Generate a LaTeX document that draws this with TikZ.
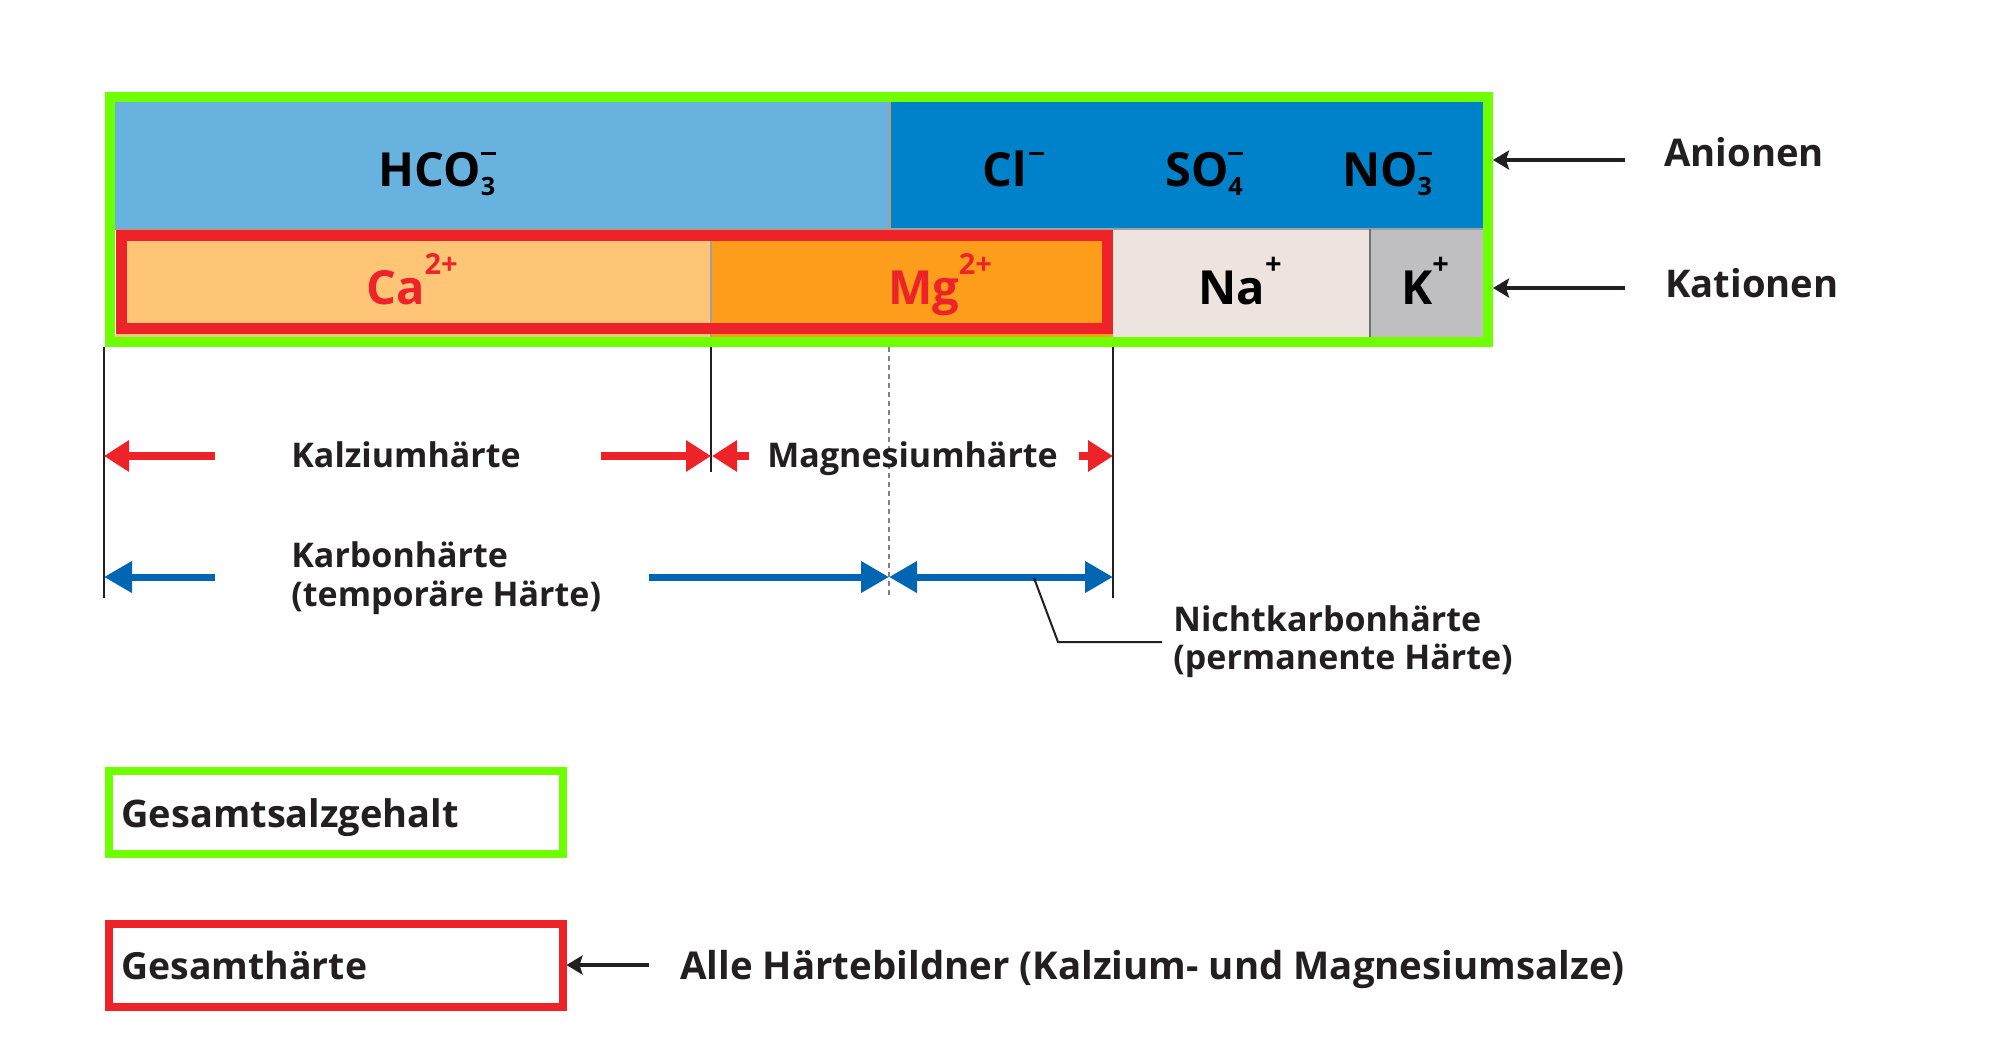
\documentclass[tikz,border=0pt]{standalone}
\usepackage{fontspec}
\setmainfont{Open Sans}
\usetikzlibrary{arrows.meta}
\definecolor{lblue}{RGB}{103,178,223}
\definecolor{dblue}{RGB}{0,130,202}
\definecolor{fgreen}{RGB}{112,255,0}
\definecolor{hred}{RGB}{238,34,41}
\definecolor{lorange}{RGB}{254,197,119}
\definecolor{dorange}{RGB}{253,157,27}
\definecolor{nacol}{RGB}{237,228,223}
\definecolor{kcol}{RGB}{191,191,194}
\definecolor{arrblue}{RGB}{0,102,179}
\definecolor{txt}{RGB}{35,31,32}
\definecolor{sepgray}{RGB}{160,160,160}
\newcommand\subs[1]{\raisebox{-4.5pt}{\fontsize{12.6}{12.6}\selectfont #1}}
\newcommand\negch{\raisebox{15.3pt}{\rule{7.3pt}{1.6pt}}}
\newcommand\supch[1]{\raisebox{15pt}{\fontsize{14.5}{14.5}\selectfont #1}}
\begin{document}
\begin{tikzpicture}[x=0.5pt,y=-0.5pt,
  lbl/.style={anchor=base west, inner sep=0, text=txt, font=\bfseries\fontsize{17}{20}\selectfont},
  biglbl/.style={lbl, font=\bfseries\fontsize{19}{20}\selectfont},
  sidelbl/.style={lbl, font=\bfseries\fontsize{19.1}{20}\selectfont},
  ionlbl/.style={anchor=base, inner sep=0, text=black, font=\bfseries\fontsize{23.5}{24}\selectfont},
  redarr/.style={draw=hred, line width=4pt, -{Triangle[length=12.5pt,width=15pt]}},
  bluearr/.style={draw=arrblue, line width=3.5pt, -{Triangle[length=14pt,width=15pt]}},
  blackarr/.style={draw=txt, line width=1.75pt, -{Stealth[length=8pt,width=9.5pt,inset=1.5pt]}},
  vline/.style={draw=txt, line width=1pt},
]
\useasboundingbox (0,0) rectangle (2004,1062);
% fills
\fill[lblue] (115,102) rectangle (889,229);
\fill[dblue] (889,102) rectangle (1483,229);
\fill[lorange] (116,229) rectangle (711,337);
\fill[dorange] (711,229) rectangle (1113,337);
\fill[nacol] (1113,229) rectangle (1370,337);
\fill[kcol] (1370,229) rectangle (1483,337);
\draw[sepgray, line width=1.5pt] (889,102) -- (889,229);
\draw[sepgray, line width=1pt] (115,229) -- (1483,229);
\draw[sepgray, line width=1pt] (711,229) -- (711,337);
\draw[sepgray!70!black, line width=1pt] (1370,229) -- (1370,337);
% frames
\node[draw=hred, line width=5.5pt, minimum width=493pt, minimum height=46.5pt, inner sep=0] (th) at (614.5,282) {};
\node[draw=fgreen, line width=5pt, minimum width=689pt, minimum height=122.5pt, inner sep=0] (tds) at (799,219.5) {};
% ion labels
\node[ionlbl] (hco3) at (437,186) {HCO\rlap{\negch}\subs{3}};
\node[ionlbl] (cl) at (1013,186) {Cl\hspace{1.5pt}\negch};
\node[ionlbl] (so4) at (1204,186) {SO\rlap{\negch}\subs{4}};
\node[ionlbl] (no3) at (1387,186) {NO\rlap{\negch}\subs{3}};
\node[ionlbl, text=hred] (ca) at (412,304) {Ca\supch{2+}};
\node[ionlbl, text=hred] (mg) at (940,304) {Mg\supch{2+}};
\node[ionlbl] (na) at (1240,304) {Na\supch{+}};
\node[ionlbl] (k) at (1425,304) {K\supch{+}};
% right labels
\node[sidelbl] (anion) at (1664,166) {Anionen};
\node[sidelbl] (kation) at (1665,297) {Kationen};
\coordinate (an0) at (1625,160);
\coordinate (ka0) at (1625,288);
\draw[blackarr] (an0) -- (an0 -| tds.east);
\draw[blackarr] (ka0) -- (ka0 -| tds.east);
% vertical guide lines
\coordinate (v1t) at (104,347); \coordinate (v1b) at (104,598);
\coordinate (v2t) at (711,347); \coordinate (v2b) at (711,472);
\coordinate (v3t) at (1113,347); \coordinate (v3b) at (1113,598);
\coordinate (v4t) at (889,347); \coordinate (v4b) at (889,598);
\draw[vline] (v1t) -- (v1b);
\draw[vline] (v2t) -- (v2b);
\draw[vline] (v3t) -- (v3b);
\draw[sepgray!80!black, line width=1pt, dash pattern=on 2.5pt off 2pt] (v4t) -- (v4b);
% hardness arrows
\coordinate (ka) at (215,456); \coordinate (kb) at (601,456);
\coordinate (ma) at (749,456); \coordinate (mb) at (1079,456);
\draw[redarr] (ka) -- (ka -| v1t);
\draw[redarr] (kb) -- (kb -| v2t);
\draw[redarr] (ma) -- ([xshift=0.5pt]ma -| v2t);
\draw[redarr] (mb) -- (mb -| v3t);
\node[lbl] (kalz) at (291,467) {Kalziumhärte};
\node[lbl] (magn) at (767,467) {Magnesiumhärte};
\coordinate (ca1) at (215,577); \coordinate (ca2) at (649,577);
\draw[bluearr] (ca1) -- (ca1 -| v1t);
\draw[bluearr] (ca2) -- (ca2 -| v4t);
\draw[bluearr, {Triangle[length=14pt,width=15pt]}-{Triangle[length=14pt,width=15pt]}] (ca2 -| v4t) -- (ca2 -| v3t);
\node[lbl] (karb) at (291,567) {Karbonhärte};
\node[lbl] (karbb) at (291,606) {(temporäre Härte)};
\node[lbl] (nkarb) at (1173,631) {Nichtkarbonhärte};
\node[lbl] (nkarbb) at (1173,669) {(permanente Härte)};
\coordinate (ld0) at (1034,578);
\coordinate (ld1) at (1058,642);
\coordinate (ld2) at (1162,642);
\draw[txt, line width=1pt] (ld0) -- (ld1) -- (ld2);
% legend
\node[draw=fgreen, line width=4pt, minimum width=226.75pt, minimum height=41.5pt, inner sep=0] (lg1) at (335.75,812.5) {};
\node[draw=hred, line width=4pt, minimum width=226.75pt, minimum height=41.5pt, inner sep=0] (lg2) at (335.75,965.5) {};
\node[biglbl] (tgs) at (121,827) {Gesamtsalzgehalt};
\node[biglbl, font=\bfseries\fontsize{18.7}{20}\selectfont] (tgh) at (121,979) {Gesamthärte};
\node[biglbl, font=\bfseries\fontsize{19.2}{20}\selectfont] (alle) at (680,979) {Alle Härtebildner (Kalzium- und Magnesiumsalze)};
\coordinate (al0) at (649,965);
\draw[blackarr] (al0) -- (al0 -| lg2.east);
\end{tikzpicture}
\end{document}
